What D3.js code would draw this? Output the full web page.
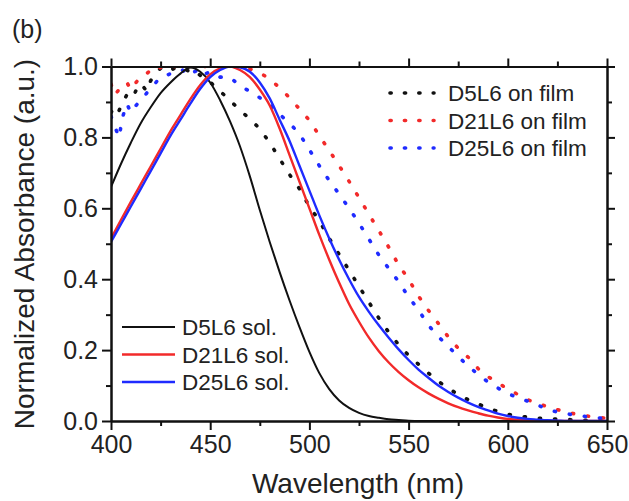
<!DOCTYPE html>
<html>
<head>
<meta charset="utf-8">
<script src="https://cdn.jsdelivr.net/npm/d3@7"></script>
<style>
  html, body { margin: 0; padding: 0; background: #fff; }
  svg { display: block; font-family: "Liberation Sans", Arial, sans-serif; }
</style>
</head>
<body>
<svg id="chart"></svg>
<script>
// solution spectra, every 5 nm
var solWl = d3.range(400, 651, 5);
var d5Sol = [0.66, 0.725, 0.785, 0.84, 0.885, 0.925, 0.955, 0.98, 0.997, 0.985,
  0.955, 0.905, 0.845, 0.775, 0.69, 0.595, 0.505, 0.42, 0.34, 0.265,
  0.195, 0.135, 0.09, 0.058, 0.037, 0.023, 0.014, 0.009, 0.005, 0.003,
  0.001, 0, 0, 0, 0, 0, 0, 0, 0, 0,
  0, 0, 0, 0, 0, 0, 0, 0, 0, 0, 0];
var d21Sol = [0.515, 0.567, 0.618, 0.668, 0.718, 0.768, 0.818, 0.863, 0.908, 0.948,
  0.978, 0.995, 1.0, 0.99, 0.97, 0.935, 0.89, 0.825, 0.75, 0.675,
  0.60, 0.525, 0.455, 0.39, 0.33, 0.28, 0.235, 0.197, 0.165, 0.138,
  0.115, 0.095, 0.078, 0.063, 0.05, 0.039, 0.03, 0.022, 0.015, 0.01,
  0.006, 0.004, 0.002, 0.001, 0, 0, 0, 0, 0, 0, 0];
var d25Sol = [0.505, 0.555, 0.605, 0.655, 0.705, 0.755, 0.805, 0.85, 0.895, 0.937,
  0.97, 0.99, 1.0, 0.998, 0.985, 0.955, 0.91, 0.85, 0.79, 0.72,
  0.65, 0.58, 0.515, 0.455, 0.40, 0.35, 0.308, 0.27, 0.235, 0.202,
  0.172, 0.145, 0.122, 0.10, 0.082, 0.066, 0.052, 0.04, 0.03, 0.021,
  0.014, 0.009, 0.006, 0.004, 0.002, 0.001, 0, 0, 0, 0, 0];

// film spectra: every 2 nm up to 450, then every 5 nm
var filmWl = d3.range(400, 451, 2).concat(d3.range(455, 651, 5));
var d5Film = [0.87, 0.89, 0.875, 0.90, 0.92, 0.91, 0.925, 0.95, 0.945, 0.93,
  0.96, 0.975, 0.99, 1.0, 0.995, 0.99, 0.995, 0.99, 0.985, 0.99,
  0.985, 0.975, 0.98, 0.97, 0.965, 0.956,
  0.93, 0.905, 0.876, 0.853, 0.824, 0.785, 0.74, 0.695, 0.655, 0.605,
  0.565, 0.515, 0.47, 0.425, 0.38, 0.335, 0.29, 0.25, 0.215, 0.185,
  0.16, 0.135, 0.112, 0.092, 0.075, 0.06, 0.048, 0.036, 0.027, 0.019,
  0.014, 0.011, 0.008, 0.006, 0.005, 0.004, 0.003, 0.002, 0.002, 0.001];
var d21Film = [0.95, 0.92, 0.935, 0.945, 0.955, 0.935, 0.95, 0.965, 0.975, 0.98,
  0.99, 0.985, 0.995, 1.0, 0.995, 1.0, 1.0, 1.0, 1.0, 1.0,
  1.0, 1.0, 1.0, 1.0, 1.0, 1.0,
  1.0, 1.0, 0.998, 0.993, 0.982, 0.965, 0.94, 0.912, 0.88, 0.848,
  0.805, 0.763, 0.72, 0.676, 0.63, 0.583, 0.537, 0.49, 0.44, 0.40,
  0.352, 0.312, 0.275, 0.237, 0.205, 0.18, 0.148, 0.125, 0.108, 0.09,
  0.075, 0.06, 0.05, 0.04, 0.032, 0.024, 0.019, 0.014, 0.01, 0.008];
var d25Film = [0.86, 0.83, 0.80, 0.86, 0.895, 0.87, 0.885, 0.90, 0.91, 0.925,
  0.94, 0.95, 0.965, 0.97, 0.975, 0.98, 0.985, 0.99, 0.99, 0.98,
  0.975, 0.985, 0.99, 0.975, 0.98, 0.985,
  0.97, 0.97, 0.945, 0.93, 0.912, 0.893, 0.865, 0.84, 0.81, 0.765,
  0.72, 0.678, 0.64, 0.60, 0.558, 0.513, 0.468, 0.43, 0.393, 0.35,
  0.313, 0.27, 0.238, 0.21, 0.182, 0.155, 0.132, 0.11, 0.093, 0.077,
  0.066, 0.056, 0.045, 0.033, 0.025, 0.02, 0.016, 0.012, 0.009, 0.007];

var xTicks = [400, 450, 500, 550, 600, 650];
var xMinor = [425, 475, 525, 575, 625];
var yTicks = [0, 0.2, 0.4, 0.6, 0.8, 1.0];
var yMinor = [0.1, 0.3, 0.5, 0.7, 0.9];

var solLabels = ["D5L6 sol.", "D21L6 sol.", "D25L6 sol."];
var filmLabels = ["D5L6 on film", "D21L6 on film", "D25L6 on film"];
var colors = ["#111", "#f22a2a", "#1f2bff"];

var width = 629, height = 501;
var svg = d3.select("#chart").attr("width", width).attr("height", height);

var x = d3.scaleLinear().domain([400, 650]).range([111, 607]);
var y = d3.scaleLinear().domain([0, 1]).range([421, 66.5]);

svg.append("defs").append("clipPath")
  .attr("id", "plot-clip")
  .append("rect")
    .attr("x", x(400))
    .attr("y", y(1))
    .attr("width", x(650) - x(400))
    .attr("height", y(0) - y(1));

var plot = svg.append("g").attr("clip-path", "url(#plot-clip)");

var line = d3.line()
  .x(function (d) { return x(d[0]); })
  .y(function (d) { return y(d[1]); })
  .curve(d3.curveMonotoneX);

var dotLine = d3.line()
  .x(function (d) { return x(d[0]); })
  .y(function (d) { return y(d[1]); });

function pairs(wl, vals) {
  return wl.map(function (w, i) { return [w, vals[i]]; });
}

// film (dotted)
[d5Film, d21Film, d25Film].forEach(function (vals, i) {
  plot.append("path")
    .datum(pairs(filmWl, vals))
    .attr("d", dotLine)
    .attr("fill", "none")
    .attr("stroke", colors[i])
    .attr("stroke-width", 3.6)
    .attr("stroke-linecap", "round")
    .attr("stroke-dasharray", "1.2 14");
});

// solution (solid)
[d5Sol, d21Sol, d25Sol].forEach(function (vals, i) {
  plot.append("path")
    .datum(pairs(solWl, vals))
    .attr("d", line)
    .attr("fill", "none")
    .attr("stroke", colors[i])
    .attr("stroke-width", i == 0 ? 2 : 2.4);
});

// axes
function styleAxis(g) {
  g.select(".domain").attr("stroke", "#111").attr("stroke-width", 2);
  g.selectAll(".tick line").attr("stroke", "#111").attr("stroke-width", 2);
  g.selectAll(".tick text").attr("fill", "#222").style("font-size", "25px")
    .style("font-family", "'Liberation Sans', Arial, sans-serif");
}

svg.append("g")
  .attr("transform", "translate(0," + y(0) + ")")
  .call(d3.axisBottom(x).tickValues(xTicks).tickFormat(d3.format("d")).tickSize(9).tickSizeOuter(0).tickPadding(5))
  .call(styleAxis);
svg.append("g")
  .attr("transform", "translate(0," + y(0) + ")")
  .call(d3.axisBottom(x).tickValues(xMinor).tickFormat("").tickSize(5).tickSizeOuter(0))
  .call(styleAxis);
svg.append("g")
  .attr("transform", "translate(0," + y(1) + ")")
  .call(d3.axisTop(x).tickValues(xTicks).tickFormat("").tickSize(8).tickSizeOuter(0))
  .call(styleAxis);
svg.append("g")
  .attr("transform", "translate(0," + y(1) + ")")
  .call(d3.axisTop(x).tickValues(xMinor).tickFormat("").tickSize(5).tickSizeOuter(0))
  .call(styleAxis);

svg.append("g")
  .attr("transform", "translate(" + x(400) + ",0)")
  .call(d3.axisLeft(y).tickValues(yTicks).tickFormat(d3.format(".1f")).tickSize(9).tickSizeOuter(0).tickPadding(4))
  .call(styleAxis);
svg.append("g")
  .attr("transform", "translate(" + x(400) + ",0)")
  .call(d3.axisLeft(y).tickValues(yMinor).tickFormat("").tickSize(5).tickSizeOuter(0))
  .call(styleAxis);
svg.append("g")
  .attr("transform", "translate(" + x(650) + ",0)")
  .call(d3.axisRight(y).tickValues(yTicks).tickFormat("").tickSize(8).tickSizeOuter(0))
  .call(styleAxis);
svg.append("g")
  .attr("transform", "translate(" + x(650) + ",0)")
  .call(d3.axisRight(y).tickValues(yMinor).tickFormat("").tickSize(5).tickSizeOuter(0))
  .call(styleAxis);

// titles
svg.append("text")
  .attr("transform", "translate(34,244) rotate(-90)")
  .attr("text-anchor", "middle")
  .attr("fill", "#222")
  .style("font-size", "28px")
  .text("Normalized Absorbance (a.u.)");

svg.append("text")
  .attr("x", 358)
  .attr("y", 493)
  .attr("text-anchor", "middle")
  .attr("fill", "#222")
  .style("font-size", "28px")
  .text("Wavelength (nm)");

svg.append("text")
  .attr("x", 12)
  .attr("y", 38)
  .attr("fill", "#222")
  .style("font-size", "25px")
  .text("(b)");

// film legend
var filmLegend = svg.append("g").attr("transform", "translate(390,93)");
filmLabels.forEach(function (label, i) {
  var row = filmLegend.append("g").attr("transform", "translate(0," + (i * 27.5) + ")");
  row.append("line")
    .attr("x1", 0).attr("x2", 44).attr("y1", 0).attr("y2", 0)
    .attr("stroke", colors[i])
    .attr("stroke-width", 3.6)
    .attr("stroke-linecap", "round")
    .attr("stroke-dasharray", "1.2 13.2");
  row.append("text")
    .attr("x", 58)
    .attr("y", 8)
    .attr("fill", "#222")
    .style("font-size", "22.5px")
    .text(label);
});

// solution legend
var solLegend = svg.append("g").attr("transform", "translate(122,327)");
solLabels.forEach(function (label, i) {
  var row = solLegend.append("g").attr("transform", "translate(0," + (i * 27.5) + ")");
  row.append("line")
    .attr("x1", 0).attr("x2", 53).attr("y1", 0).attr("y2", 0)
    .attr("stroke", colors[i])
    .attr("stroke-width", i == 0 ? 2 : 2.6);
  row.append("text")
    .attr("x", 60)
    .attr("y", 8)
    .attr("fill", "#222")
    .style("font-size", "22.5px")
    .text(label);
});
</script>
</body>
</html>
